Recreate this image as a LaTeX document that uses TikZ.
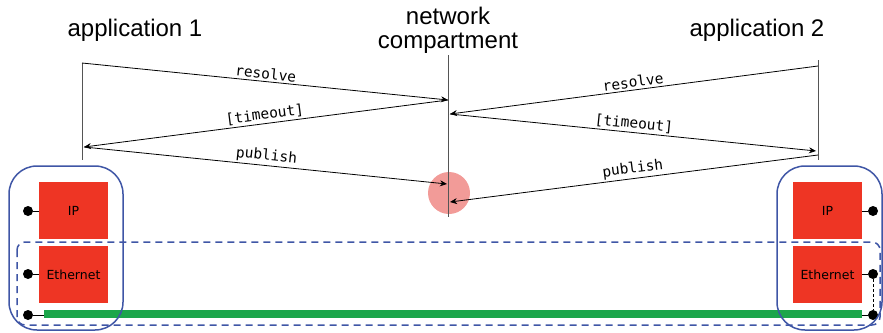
\documentclass[tikz,border=0pt]{standalone}
\usepackage{fontspec}
\setmainfont{Liberation Sans}
\newfontfamily\msgfont{DejaVu Sans Mono}
\newfontfamily\layerfont{DejaVu Sans}
\usetikzlibrary{arrows.meta,positioning}
\definecolor{Layer}{HTML}{EE3524}
\definecolor{Host}{HTML}{3F56A6}
\definecolor{Wire}{HTML}{1CA64B}
\definecolor{Spot}{HTML}{F29B98}
\definecolor{Life}{HTML}{555555}

\begin{document}
\begin{tikzpicture}[
  x=1pt,y=-1pt,
  title/.style={font=\fontsize{24}{24}\selectfont,align=center,inner sep=0pt},
  life/.style={draw=Life,line width=1pt},
  msg/.style={-{Stealth[length=7pt,width=6pt]},line width=0.8pt},
  gsm/.style={{Stealth[length=7pt,width=6pt]}-,line width=0.8pt},
  lbl/.style={font=\msgfont\fontsize{14.5}{14.5}\selectfont,sloped,above,inner sep=2pt},
  layer/.style={fill=Layer,minimum width=69pt,minimum height=57pt,inner sep=0pt,font=\layerfont\fontsize{12.5}{12.5}\selectfont},
  host/.style={draw=Host,line width=1.5pt,rounded corners=28pt},
  link/.style={draw=Host,line width=1.5pt,dash pattern=on 7pt off 5pt,rounded corners=8pt},
  port/.style={circle,fill=black,inner sep=0pt,minimum size=10pt},
  stub/.style={line width=1pt}
]
\useasboundingbox (0,0) rectangle (883,332);

% titles and lifelines
\node[title] (app1) at (135,30) {application 1};
\node[title] (net) at (448,30) {network\\compartment};
\node[title] (app2) at (757,30) {application 2};
\coordinate (a1top) at (82,63);
\coordinate (a1bot) at (82,160);
\coordinate (ntop) at (448,55);
\coordinate (nbot) at (448,217);
\coordinate (a2top) at (818,60);
\coordinate (a2bot) at (818,160);

\node[circle,fill=Spot,minimum size=42pt,inner sep=0pt] (spot) at (449,193) {};
\draw[life] (a1top) -- (a1bot);
\draw[life] (ntop) -- (nbot);
\draw[life] (a2top) -- (a2bot);

% messages
\coordinate (r1s) at (82,63);
\coordinate (r1e) at (448,100);
\coordinate (t1e) at (84,147);
\coordinate (p1e) at (447,184);
\coordinate (r2s) at (818,66);
\coordinate (r2e) at (450,114);
\coordinate (t2e) at (816,151);
\coordinate (p2s) at (818,155);
\coordinate (p2e) at (450,202);
\draw[msg] (r1s) -- node[lbl] {resolve} (r1e);
\draw[gsm] (t1e) -- node[lbl] {[timeout]} (r1e);
\draw[msg] (t1e) -- node[lbl] {publish} (p1e);
\draw[gsm] (r2e) -- node[lbl] {resolve} (r2s);
\draw[msg] (r2e) -- node[lbl] {[timeout]} (t2e);
\draw[gsm] (p2e) -- node[lbl] {publish} (p2s);

% hosts
\node[layer] (ip1) at (73.5,210.5) {IP};
\node[layer] (eth1) at (73.5,274.5) {Ethernet};
\node[layer] (ip2) at (827.5,210.5) {IP};
\node[layer] (eth2) at (827.5,274.5) {Ethernet};
\node[fill=Wire,minimum width=818pt,minimum height=8pt,inner sep=0pt] (wire) at (453,314) {};

\node[port] (ip1p) at (28,211) {};
\node[port] (eth1p) at (28,274) {};
\node[port] (wire1p) at (28,315) {};
\node[port] (ip2p) at (873,211) {};
\node[port] (eth2p) at (873,274) {};
\node[port] (wire2p) at (873,315) {};
\draw[stub] (ip1p) -- (ip1p -| ip1.west);
\draw[stub] (eth1p) -- (eth1p -| eth1.west);
\draw[stub] (wire1p) -- (wire1p -| wire.west);
\draw[stub] (ip2p) -- (ip2p -| ip2.east);
\draw[stub] (eth2p) -- (eth2p -| eth2.east);
\draw[stub] (wire2p) -- (wire2p -| wire.east);
\draw[densely dashed,line width=0.8pt] (eth2p) -- (wire2p);

\draw[host] (9,166) rectangle (123,330);
\draw[host] (777,166) rectangle (882,330);
\draw[link] (17,242) rectangle (880,325);
\end{tikzpicture}
\end{document}
